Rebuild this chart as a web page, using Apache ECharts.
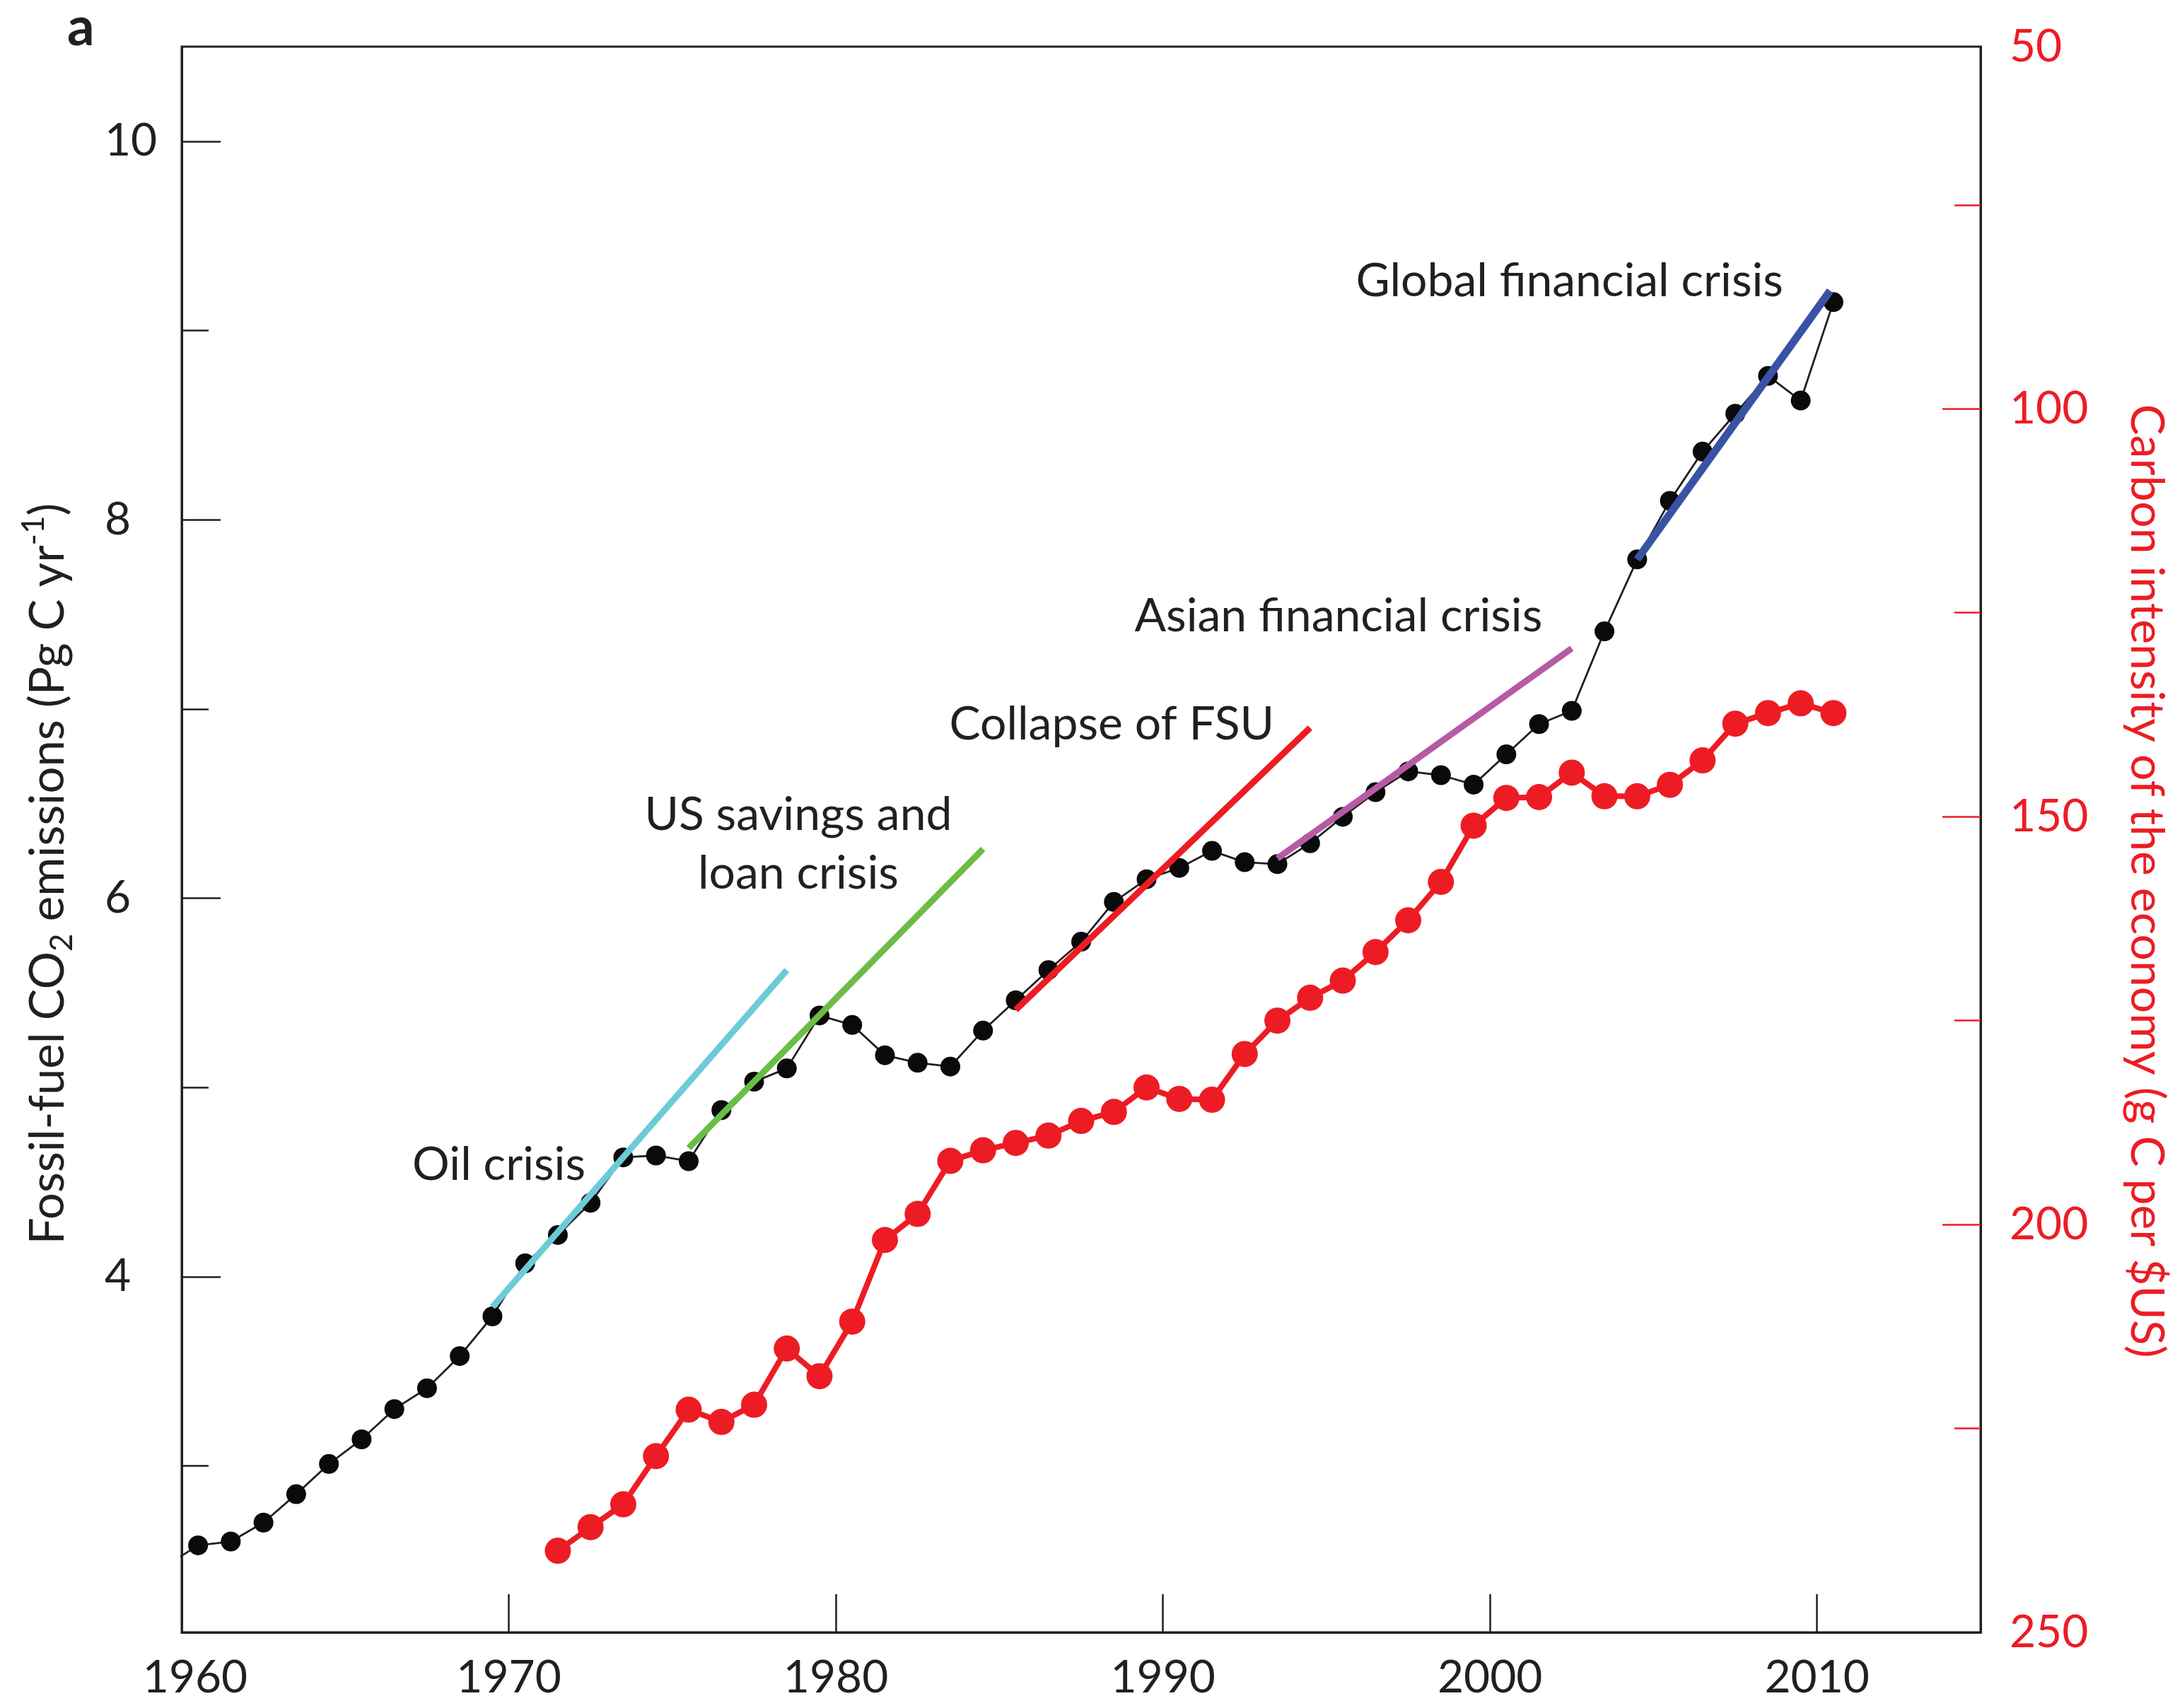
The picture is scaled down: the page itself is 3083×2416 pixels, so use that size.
<!DOCTYPE html>
<html>
<head>
<meta charset="utf-8">
<script src="https://cdn.jsdelivr.net/npm/echarts@6/dist/echarts.min.js"></script>
<style>html,body{margin:0;padding:0;background:#fff}#c{width:3083px;height:2416px}</style>
</head>
<body>
<div id="c"></div>
<script>
// ---------- data ----------
const emissionYears = [1959,1960,1961,1962,1963,1964,1965,1966,1967,1968,1969,1970,1971,1972,1973,1974,1975,1976,1977,1978,1979,1980,1981,1982,1983,1984,1985,1986,1987,1988,1989,1990,1991,1992,1993,1994,1995,1996,1997,1998,1999,2000,2001,2002,2003,2004,2005,2006,2007,2008,2009,2010];
const emissions = [2.47,2.58,2.60,2.70,2.85,3.01,3.14,3.30,3.41,3.58,3.79,4.07,4.22,4.39,4.63,4.64,4.61,4.88,5.03,5.10,5.38,5.33,5.17,5.13,5.11,5.30,5.46,5.62,5.77,5.98,6.10,6.16,6.25,6.19,6.18,6.29,6.43,6.56,6.67,6.65,6.60,6.76,6.92,6.99,7.41,7.79,8.10,8.36,8.56,8.76,8.63,9.15];

const intensityYears = [1971,1972,1973,1974,1975,1976,1977,1978,1979,1980,1981,1982,1983,1984,1985,1986,1987,1988,1989,1990,1991,1992,1993,1994,1995,1996,1997,1998,1999,2000,2001,2002,2003,2004,2005,2006,2007,2008,2009,2010];
const intensity = [240.0,237.1,234.3,228.4,222.7,224.2,222.1,215.2,218.6,211.9,201.9,198.7,192.2,190.9,190.0,189.1,187.3,186.2,183.2,184.6,184.7,179.1,175.0,172.2,170.1,166.6,162.7,158.0,151.1,147.7,147.6,144.6,147.5,147.5,146.1,143.1,138.6,137.3,136.1,137.3];

// crisis trend lines: [x (year), emissions]
const oilTrend    = [[1969.5, 3.84], [1978.5, 5.62]];
const savingsTrend= [[1975.5, 4.68], [1984.5, 6.26]];
const fsuTrend    = [[1985.5, 5.41], [1994.5, 6.90]];
const asianTrend  = [[1993.5, 6.21], [2002.5, 7.32]];
const globalTrend = [[2004.5, 7.79], [2010.4, 9.21]];

const xTickLabels = [1960,1970,1980,1990,2000,2010];
const xTicks = [1970,1980,1990,2000,2010];
const leftMajor = [4,6,8,10];
const leftMinor = [3,5,7,9];
const rightLabels = [100,150,200,250];
const rightMajor = [100,150,200];
const rightMinor = [75,125,175,225];

const annotations = [
  {text:'Global financial crisis', x:1995.9, y:9.26, align:'left'},
  {text:'Asian financial crisis', x:1989.13, y:7.49, align:'left'},
  {text:'Collapse of FSU', x:1983.47, y:6.92, align:'left'},
  {text:'US savings and', x:1978.85, y:6.44, align:'center'},
  {text:'loan crisis', x:1978.85, y:6.13, align:'center'},
  {text:'Oil crisis', x:1967.05, y:4.59, align:'left'}
];

// ---------- chart ----------
const FONT = 'Lato';
const INK = '#231f20';
const RED = '#ed1c24';
const LEFT_MIN = 2.12, LEFT_MAX = 10.5;
const RIGHT_MIN = 55.6, RIGHT_MAX = 250;

const chart = echarts.init(document.getElementById('c'), null, {renderer:'canvas'});

const blackData = emissionYears.map((y,i)=>[y+0.5, emissions[i]]);
const redData = intensityYears.map((y,i)=>[y+0.5, intensity[i]]);

function trend(data, color, width){
  return {type:'line', data:data, xAxisIndex:0, yAxisIndex:0, showSymbol:false, symbol:'none',
    lineStyle:{color:color, width:width, cap:'butt'}, z:5, silent:true, animation:false};
}

const option = {
  animation:false,
  backgroundColor:'#ffffff',
  grid:{left:257, right:282, top:66, bottom:107, show:true, borderColor:INK, borderWidth:3, backgroundColor:'transparent'},
  xAxis:[{
    type:'value', min:1960, max:2015,
    axisLine:{show:true, onZero:false, lineStyle:{color:INK, width:3}},
    axisTick:{show:true, inside:true, length:54, customValues:xTicks, lineStyle:{color:INK, width:2.5}},
    axisLabel:{customValues:xTickLabels, margin:32, fontSize:64, color:INK, fontFamily:FONT,
      formatter:v=>(v === xTickLabels[0] ? '{first|' + v + '}' : String(v)),
      rich:{first:{fontSize:64, color:INK, fontFamily:FONT, padding:[0,0,0,38]}}},
    splitLine:{show:false}
  }],
  yAxis:[
    { // left main
      type:'value', min:LEFT_MIN, max:LEFT_MAX, position:'left',
      axisLine:{show:true, lineStyle:{color:INK, width:3}},
      axisTick:{show:true, inside:true, length:55, customValues:leftMajor, lineStyle:{color:INK, width:2.5}},
      axisLabel:{customValues:leftMajor, margin:109, align:'left', fontSize:64, color:INK, fontFamily:FONT, padding:[14,0,0,0], formatter:v=>String(v)},
      splitLine:{show:false}
    },
    { // right main (inverted)
      type:'value', min:RIGHT_MIN, max:RIGHT_MAX, inverse:true, position:'right',
      axisLine:{show:true, lineStyle:{color:INK, width:3}},
      axisTick:{show:true, inside:true, length:54, customValues:rightMajor, lineStyle:{color:RED, width:2.5}},
      axisLabel:{customValues:[RIGHT_MIN].concat(rightLabels), margin:41, fontSize:64, color:RED, fontFamily:FONT, padding:[16,0,0,0],
        formatter:v=>(v < 60 ? '50' : String(Math.round(v)))},
      splitLine:{show:false}
    },
    { // left minor ticks
      type:'value', min:LEFT_MIN, max:LEFT_MAX, position:'left',
      axisLine:{show:false},
      axisTick:{show:true, inside:true, length:38, customValues:leftMinor, lineStyle:{color:INK, width:2.5}},
      axisLabel:{show:false}, splitLine:{show:false}
    },
    { // right minor ticks
      type:'value', min:RIGHT_MIN, max:RIGHT_MAX, inverse:true, position:'right',
      axisLine:{show:false},
      axisTick:{show:true, inside:true, length:37, customValues:rightMinor, lineStyle:{color:RED, width:2.5}},
      axisLabel:{show:false}, splitLine:{show:false}
    }
  ],
  series:[
    {type:'line', name:'Carbon intensity', data:redData, xAxisIndex:0, yAxisIndex:1,
      symbol:'circle', symbolSize:37, showAllSymbol:true,
      itemStyle:{color:RED}, lineStyle:{color:RED, width:8}, z:2},
    {type:'line', name:'Emissions', data:blackData, xAxisIndex:0, yAxisIndex:0, clip:true,
      symbol:'circle', symbolSize:28, showAllSymbol:true,
      itemStyle:{color:'#0a0a0a'}, lineStyle:{color:INK, width:2.8}, z:3},
    trend(oilTrend, '#6dcad9', 9),
    trend(savingsTrend, '#6bbd45', 9),
    trend(fsuTrend, RED, 9),
    trend(asianTrend, '#b65aa6', 9),
    trend(globalTrend, '#3853a4', 11)
  ]
};
chart.setOption(option);

// annotations and titles placed through the chart's own scales
const graphics = annotations.map(a=>{
  const p = chart.convertToPixel({xAxisIndex:0, yAxisIndex:0}, [a.x, a.y]);
  return {type:'text', x:p[0], y:p[1], z:10, silent:true,
    style:{text:a.text, fontSize:66, fontFamily:FONT, fill:INK, align:a.align, verticalAlign:'middle'}};
});
graphics.push({type:'text', x:95, y:39, z:10, silent:true,
  style:{text:'a', fontSize:76, fontWeight:'bold', fontFamily:FONT, fill:INK, align:'left', verticalAlign:'middle'}});
graphics.push({type:'text', x:68, y:1236, rotation:Math.PI/2, z:10, silent:true,
  style:{text:'Fossil-fuel CO{sub|2} emissions (Pg C yr{sup|-1})', fontSize:67, lineHeight:84, fontFamily:FONT, fill:INK,
    align:'center', verticalAlign:'middle',
    rich:{sub:{fontSize:44, fontFamily:FONT, fill:INK, verticalAlign:'bottom', lineHeight:44},
          sup:{fontSize:44, fontFamily:FONT, fill:INK, verticalAlign:'top', lineHeight:44}}}});
graphics.push({type:'text', x:3035, y:1246, rotation:-Math.PI/2, z:10, silent:true,
  style:{text:'Carbon intensity of the economy (g C per $US)', fontSize:66, fontFamily:FONT, fill:RED,
    align:'center', verticalAlign:'middle'}});
chart.setOption({graphic:graphics});
</script>
</body>
</html>
